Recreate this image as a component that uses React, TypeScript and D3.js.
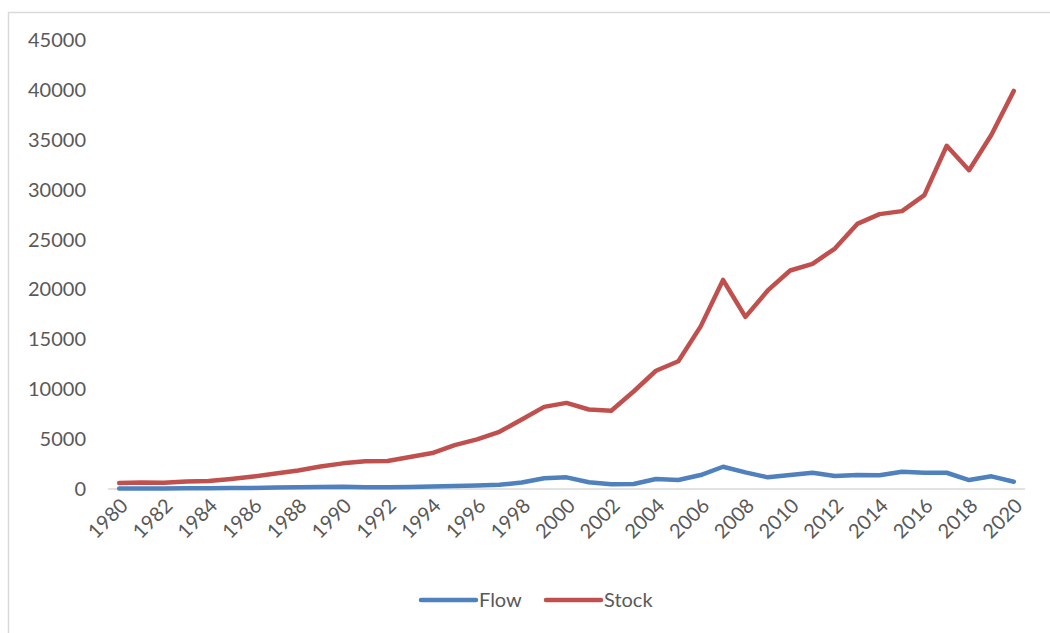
import React from "react";
import * as d3 from "d3";

const years: number[] = d3.range(1980, 2021);
const flow: number[] = [
  50, 60, 60, 70, 70, 90, 110, 140, 170, 200, 230, 170, 170, 200, 250, 300, 350, 420, 650, 1070,
  1170, 670, 470, 500, 1000, 900, 1400, 2230, 1670, 1170, 1400, 1630, 1300, 1400, 1370, 1730, 1630, 1630, 900, 1270, 730,
];
const stock: number[] = [
  600, 650, 620, 750, 800, 1000, 1250, 1550, 1850, 2250, 2570, 2780, 2800, 3200, 3600, 4400, 4970, 5730, 6970, 8230,
  8630, 7970, 7850, 9770, 11850, 12800, 16300, 20950, 17250, 19900, 21900, 22570, 24100, 26570, 27550, 27850, 29450, 34400, 31950, 35500, 39900,
];
const yTicks: number[] = [0, 5000, 10000, 15000, 20000, 25000, 30000, 35000, 40000, 45000];
const seriesNames: string[] = ["Flow", "Stock"];
const seriesColors: string[] = ["#4F81BD", "#C0504D"];

const W = 1050;
const H = 633;
const FONT = "Lato, 'Open Sans', sans-serif";

export default function App() {
  const x = d3.scalePoint<number>().domain(years).range([108, 1025]).padding(0.5);
  const y = d3.scaleLinear().domain([0, 45000]).range([489, 40]);
  const line = d3
    .line<number>()
    .x((_, i) => x(years[i]) as number)
    .y((d) => y(d));
  const data = [flow, stock];
  const labelYears = years.filter((yr) => (yr - 1980) % 2 === 0);

  return (
    <svg
      width={W}
      height={H}
      style={{ position: "absolute", left: 0, top: 0, background: "#fff" }}
      fontFamily={FONT}
    >
      <rect x={8.5} y={12.5} width={W + 10} height={H + 10} fill="#fff" stroke="#d9d9d9" strokeWidth={1.5} />
      {yTicks.map((t) => (
        <text key={t} x={86} y={y(t)} dy="0.35em" textAnchor="end" fontSize={20} fill="#595959">
          {t}
        </text>
      ))}
      <line x1={108} x2={1025} y1={y(0)} y2={y(0)} stroke="#d9d9d9" strokeWidth={1.5} />
      {labelYears.map((yr) => {
        const px = (x(yr) as number) + 5;
        const py = 502;
        return (
          <text
            key={yr}
            x={px}
            y={py}
            textAnchor="end"
            dy="0.35em"
            fontSize={20}
            fill="#595959"
            transform={`rotate(-45, ${px}, ${py})`}
          >
            {yr}
          </text>
        );
      })}
      {data.map((d, i) => (
        <path
          key={seriesNames[i]}
          d={line(d) || ""}
          fill="none"
          stroke={seriesColors[i]}
          strokeWidth={4.5}
          strokeLinejoin="round"
          strokeLinecap="round"
        />
      ))}
      {seriesNames.map((name, i) => {
        const lx = i === 0 ? 421 : 546;
        return (
          <g key={name}>
            <line x1={lx} x2={lx + 55} y1={600} y2={600} stroke={seriesColors[i]} strokeWidth={4.5} strokeLinecap="round" />
            <text x={lx + 58} y={600} dy="0.35em" fontSize={20} fill="#595959">
              {name}
            </text>
          </g>
        );
      })}
    </svg>
  );
}
